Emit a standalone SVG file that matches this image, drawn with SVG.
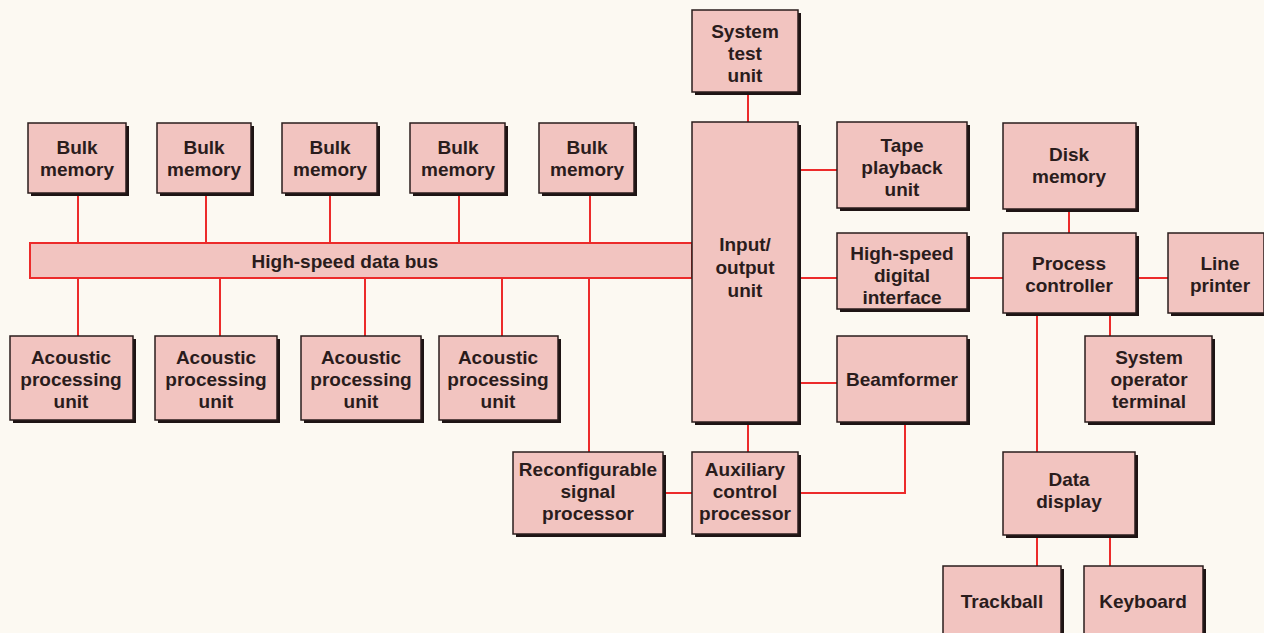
<svg xmlns="http://www.w3.org/2000/svg" width="1264" height="633" viewBox="0 0 1264 633">
<style>
.bg{fill:#fcf9f2}
.sh{fill:#1e1414}
.box{fill:#f2c4c0;stroke:#2a1c1c;stroke-width:1.5}
.bus{fill:#f2c4c0;stroke:#ec2b2b;stroke-width:2}
.ln{stroke:#ec2b2b;stroke-width:2;fill:none}
text{font-family:"Liberation Sans",Arial,sans-serif;font-weight:bold;font-size:19px;fill:#2a1c1c;text-anchor:middle}
</style>
<rect class="bg" x="0" y="0" width="1264" height="633"/>
<g id="connectors">
<path class="ln" d="M78 193V243M206 193V243M330 193V243M459 193V243M590 193V243"/>
<path class="ln" d="M78 278V336M220 278V336M365 278V336M502 278V336M589 278V452"/>
<path class="ln" d="M748 92V122M798 170H837M798 278H837M798 383H837M967 278H1003M1136 278H1168M1069 209V233M1110 313V336M1037 313V452M1037 535V566M1110 535V566"/>
<path class="ln" d="M748 422V452M663 493H692M798 493H905V422"/>
</g>
<g id="bus">
<rect class="bus" x="30" y="243" width="662" height="35"/>
<text x="345" y="268">High-speed data bus</text>
</g>
<g id="bulk1"><rect class="sh" x="31" y="126" width="98" height="70"/><rect class="box" x="28" y="123" width="98" height="70"/><text x="77" y="154">Bulk<tspan x="77" y="176">memory</tspan></text></g>
<g id="bulk2"><rect class="sh" x="160" y="126" width="94" height="70"/><rect class="box" x="157" y="123" width="94" height="70"/><text x="204" y="154">Bulk<tspan x="204" y="176">memory</tspan></text></g>
<g id="bulk3"><rect class="sh" x="285" y="126" width="95" height="70"/><rect class="box" x="282" y="123" width="95" height="70"/><text x="330" y="154">Bulk<tspan x="330" y="176">memory</tspan></text></g>
<g id="bulk4"><rect class="sh" x="413" y="126" width="95" height="70"/><rect class="box" x="410" y="123" width="95" height="70"/><text x="458" y="154">Bulk<tspan x="458" y="176">memory</tspan></text></g>
<g id="bulk5"><rect class="sh" x="542" y="126" width="95" height="70"/><rect class="box" x="539" y="123" width="95" height="70"/><text x="587" y="154">Bulk<tspan x="587" y="176">memory</tspan></text></g>
<g id="apu1"><rect class="sh" x="13" y="339" width="123" height="84"/><rect class="box" x="10" y="336" width="123" height="84"/><text x="71" y="364">Acoustic<tspan x="71" y="386">processing</tspan><tspan x="71" y="408">unit</tspan></text></g>
<g id="apu2"><rect class="sh" x="158" y="339" width="122" height="84"/><rect class="box" x="155" y="336" width="122" height="84"/><text x="216" y="364">Acoustic<tspan x="216" y="386">processing</tspan><tspan x="216" y="408">unit</tspan></text></g>
<g id="apu3"><rect class="sh" x="304" y="339" width="120" height="84"/><rect class="box" x="301" y="336" width="120" height="84"/><text x="361" y="364">Acoustic<tspan x="361" y="386">processing</tspan><tspan x="361" y="408">unit</tspan></text></g>
<g id="apu4"><rect class="sh" x="442" y="339" width="119" height="84"/><rect class="box" x="439" y="336" width="119" height="84"/><text x="498" y="364">Acoustic<tspan x="498" y="386">processing</tspan><tspan x="498" y="408">unit</tspan></text></g>
<g id="systest"><rect class="sh" x="695" y="13" width="106" height="82"/><rect class="box" x="692" y="10" width="106" height="82"/><text x="745" y="38">System<tspan x="745" y="60">test</tspan><tspan x="745" y="82">unit</tspan></text></g>
<g id="io"><rect class="sh" x="695" y="125" width="106" height="300"/><rect class="box" x="692" y="122" width="106" height="300"/><text x="745" y="251">Input/<tspan x="745" y="274">output</tspan><tspan x="745" y="297">unit</tspan></text></g>
<g id="tape"><rect class="sh" x="840" y="125" width="130" height="86"/><rect class="box" x="837" y="122" width="130" height="86"/><text x="902" y="152">Tape<tspan x="902" y="174">playback</tspan><tspan x="902" y="196">unit</tspan></text></g>
<g id="hsdi"><rect class="sh" x="840" y="236" width="130" height="76"/><rect class="box" x="837" y="233" width="130" height="76"/><text x="902" y="260">High-speed<tspan x="902" y="282">digital</tspan><tspan x="902" y="304">interface</tspan></text></g>
<g id="beam"><rect class="sh" x="840" y="339" width="130" height="86"/><rect class="box" x="837" y="336" width="130" height="86"/><text x="902" y="386">Beamformer</text></g>
<g id="disk"><rect class="sh" x="1006" y="126" width="133" height="86"/><rect class="box" x="1003" y="123" width="133" height="86"/><text x="1069" y="161">Disk<tspan x="1069" y="183">memory</tspan></text></g>
<g id="pc"><rect class="sh" x="1006" y="236" width="133" height="80"/><rect class="box" x="1003" y="233" width="133" height="80"/><text x="1069" y="270">Process<tspan x="1069" y="292">controller</tspan></text></g>
<g id="printer"><rect class="sh" x="1171" y="236" width="96" height="80"/><rect class="box" x="1168" y="233" width="96" height="80"/><text x="1220" y="270">Line<tspan x="1220" y="292">printer</tspan></text></g>
<g id="sot"><rect class="sh" x="1088" y="339" width="127" height="86"/><rect class="box" x="1085" y="336" width="127" height="86"/><text x="1149" y="364">System<tspan x="1149" y="386">operator</tspan><tspan x="1149" y="408">terminal</tspan></text></g>
<g id="display"><rect class="sh" x="1006" y="455" width="132" height="83"/><rect class="box" x="1003" y="452" width="132" height="83"/><text x="1069" y="486">Data<tspan x="1069" y="508">display</tspan></text></g>
<g id="track"><rect class="sh" x="946" y="569" width="118" height="80"/><rect class="box" x="943" y="566" width="118" height="80"/><text x="1002" y="608">Trackball</text></g>
<g id="kbd"><rect class="sh" x="1087" y="569" width="119" height="80"/><rect class="box" x="1084" y="566" width="119" height="80"/><text x="1143" y="608">Keyboard</text></g>
<g id="rsp"><rect class="sh" x="516" y="455" width="150" height="82"/><rect class="box" x="513" y="452" width="150" height="82"/><text x="588" y="476">Reconfigurable<tspan x="588" y="498">signal</tspan><tspan x="588" y="520">processor</tspan></text></g>
<g id="acp"><rect class="sh" x="695" y="455" width="106" height="82"/><rect class="box" x="692" y="452" width="106" height="82"/><text x="745" y="476">Auxiliary<tspan x="745" y="498">control</tspan><tspan x="745" y="520">processor</tspan></text></g>
</svg>
